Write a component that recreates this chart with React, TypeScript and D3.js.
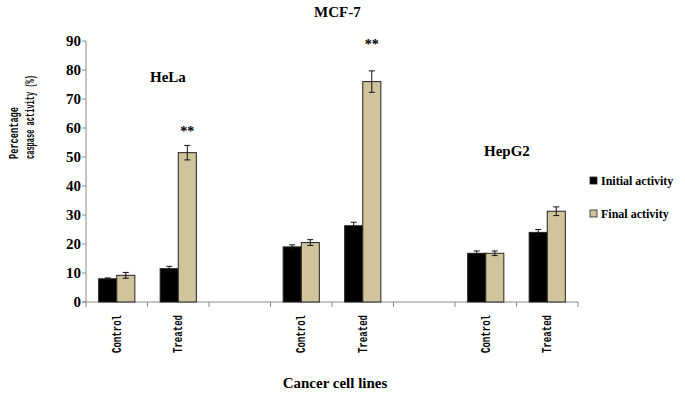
import * as d3 from 'd3';
import React from 'react';

// slots along the x axis (gaps are empty spacer slots between cell lines)
const slots = ['HeLa-Control', 'HeLa-Treated', 'gap1', 'MCF7-Control', 'MCF7-Treated', 'gap2', 'HepG2-Control', 'HepG2-Treated'];
const slotLabels = ['Control', 'Treated', '', 'Control', 'Treated', '', 'Control', 'Treated'];
const series = ['Initial activity', 'Final activity'];

const initialValues = [8, 11.5, null, 19, 26.3, null, 16.8, 24];
const initialErrors = [0.3, 0.8, null, 0.7, 1.2, null, 0.8, 1];
const finalValues = [9.2, 51.5, null, 20.5, 76, null, 16.8, 31.3];
const finalErrors = [1, 2.5, null, 1, 3.7, null, 0.8, 1.5];
const significant = ['', '**', '', '', '**', '', '', ''];
// level (in % units) where the significance stars sit
const significantAt = [null, 59.5, null, null, 89.8, null, null, null];

const groupLabels = [
  { text: 'HeLa', slot: 'HeLa-Control', value: 75.8, dx: 64 },
  { text: 'MCF-7', slot: 'MCF7-Treated', value: 98.3, dx: -18 },
  { text: 'HepG2', slot: 'HepG2-Control', value: 50.3, dx: 29 },
];

const yTicks = [0, 10, 20, 30, 40, 50, 60, 70, 80, 90];
const colors = ['#000000', '#cfc49b'];

const serif = { fontFamily: "'Liberation Serif', 'Times New Roman', 'DejaVu Serif', serif", fontWeight: 'bold' as const };
const mono = { fontFamily: "'Liberation Mono', 'Courier New', 'DejaVu Sans Mono', monospace", fontWeight: 'bold' as const };

export default function App() {
  const width = 685;
  const height = 403;
  const left = 86;
  const right = 578;
  const top = 41;
  const bottom = 302;

  const x = d3.scaleBand().domain(slots).range([left, right]).padding(0);
  const inner = d3.scaleBand().domain(series).range([0, x.bandwidth()]).paddingInner(0).paddingOuter(0.7);
  const y = d3.scaleLinear().domain([0, 90]).range([bottom, top]);

  const valuesBySeries = [initialValues, finalValues];
  const errorsBySeries = [initialErrors, finalErrors];

  const tickPositions = slots.map((s) => x(s)).concat([right]);

  return (
    <svg width={width} height={height} style={{ position: 'absolute', left: 0, top: 0, background: '#fff' }}>
      {/* axes */}
      <line x1={left} x2={left} y1={top} y2={bottom} stroke="#8a8a8a" />
      <line x1={left - 4} x2={right} y1={bottom} y2={bottom} stroke="#8a8a8a" />
      {yTicks.map((t) => (
        <g key={t}>
          <line x1={left - 4} x2={left} y1={y(t)} y2={y(t)} stroke="#8a8a8a" />
          <text x={left - 5} y={y(t)} dy="0.35em" textAnchor="end" style={{ ...serif, fontSize: 15 }}>
            {t}
          </text>
        </g>
      ))}
      {tickPositions.map((p, i) => (
        <line key={i} x1={p} x2={p} y1={bottom} y2={bottom + 5} stroke="#8a8a8a" />
      ))}

      {/* bars */}
      {slots.map((s, i) =>
        series.map((ser, k) => {
          const v = valuesBySeries[k][i];
          const e = errorsBySeries[k][i];
          if (v == null) return null;
          const bx = (x(s) as number) + (inner(ser) as number);
          const bw = inner.bandwidth();
          const cx = bx + bw / 2;
          return (
            <g key={s + ser}>
              <rect x={bx} y={y(v)} width={bw} height={bottom - y(v)} fill={colors[k]} stroke="#222" strokeWidth={1} />
              {e != null && (
                <g stroke="#111" strokeWidth={1}>
                  <line x1={cx} x2={cx} y1={y(v + e)} y2={y(v - e)} />
                  <line x1={cx - 3} x2={cx + 3} y1={y(v + e)} y2={y(v + e)} />
                  <line x1={cx - 3} x2={cx + 3} y1={y(v - e)} y2={y(v - e)} />
                </g>
              )}
            </g>
          );
        })
      )}

      {/* significance marks */}
      {slots.map((s, i) => {
        const at = significantAt[i];
        if (!significant[i] || at == null) return null;
        const cx = (x(s) as number) + (inner('Final activity') as number) + inner.bandwidth() / 2;
        return (
          <text key={s} x={cx} y={y(at) + 7} textAnchor="middle" fill="#000" style={{ ...serif, fontSize: 14 }}>
            {significant[i]}
          </text>
        );
      })}

      {/* group labels */}
      {groupLabels.map((g) => (
        <text key={g.text} x={(x(g.slot) as number) + g.dx} y={y(g.value)} style={{ ...serif, fontSize: 15 }}>
          {g.text}
        </text>
      ))}

      {/* x tick labels */}
      {slots.map((s, i) =>
        slotLabels[i] ? (
          <text
            key={s}
            transform={`translate(${(x(s) as number) + x.bandwidth() / 2 + 4},315) rotate(-90)`}
            textAnchor="end"
            textLength={38}
            lengthAdjust="spacingAndGlyphs"
            style={{ ...mono, fontSize: 13 }}
          >
            {slotLabels[i]}
          </text>
        ) : null
      )}

      {/* y axis title */}
      <text transform="translate(18,159) rotate(-90)" textLength={52} lengthAdjust="spacingAndGlyphs" style={{ ...mono, fontSize: 13 }}>
        Percentage
      </text>
      <text transform="translate(34,159) rotate(-90)" textLength={84} lengthAdjust="spacingAndGlyphs" style={{ ...mono, fontSize: 13 }}>
        caspase activity (%)
      </text>

      {/* x axis title */}
      <text x={335} y={388} textAnchor="middle" style={{ ...serif, fontSize: 15 }}>
        Cancer cell lines
      </text>

      {/* legend */}
      {series.map((ser, k) => (
        <g key={ser} transform={`translate(590,${177 + k * 33})`}>
          <rect x={0} y={0} width={7} height={7} fill={colors[k]} stroke="#222" strokeWidth={0.8} />
          <text x={11} y={7.5} style={{ ...serif, fontSize: 12 }}>
            {ser}
          </text>
        </g>
      ))}
    </svg>
  );
}
